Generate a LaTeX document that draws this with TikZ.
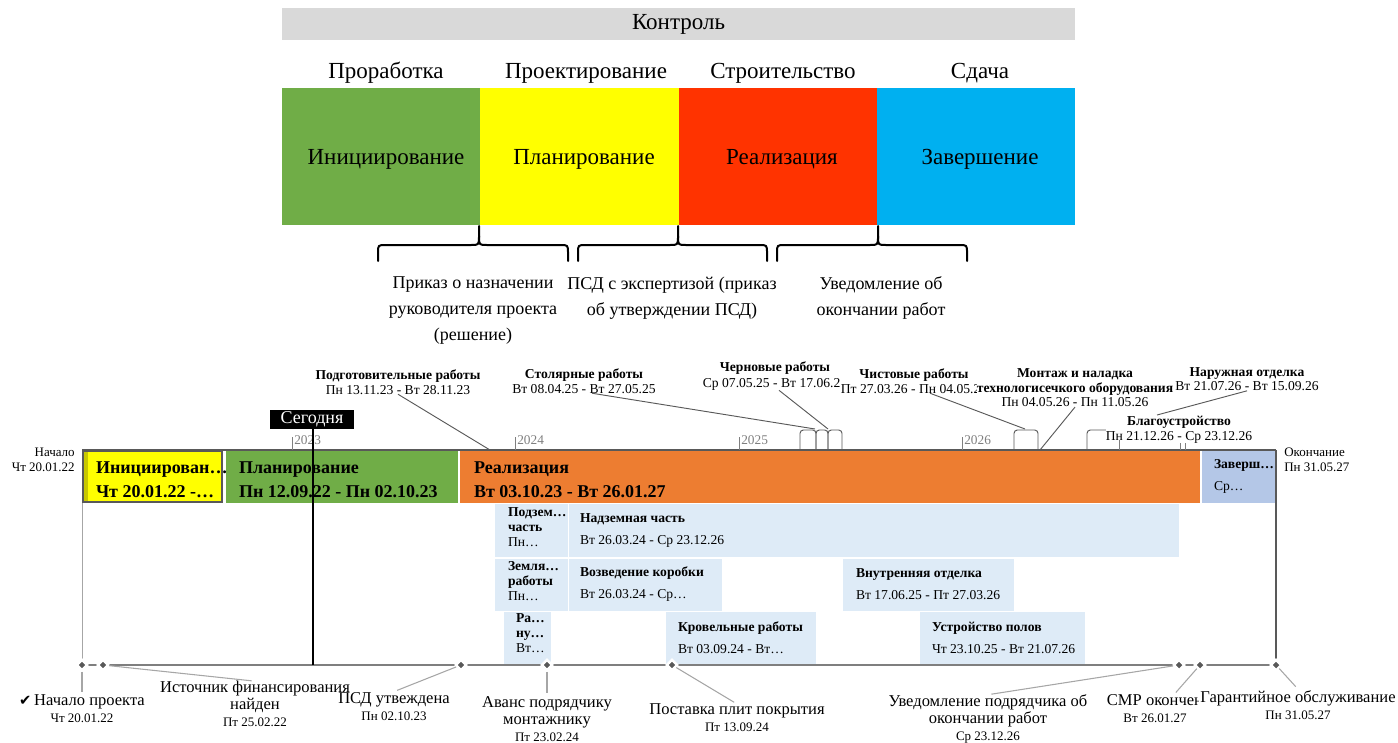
\documentclass[tikz,border=0pt]{standalone}
\usepackage{fontspec}
\setmainfont{Liberation Serif}
\newfontfamily\symfont{DejaVu Sans}
\usetikzlibrary{shapes.geometric}
\definecolor{ctlgray}{HTML}{D9D9D9}
\definecolor{topgreen}{HTML}{70AD47}
\definecolor{topyellow}{HTML}{FFFF00}
\definecolor{topred}{HTML}{FF3300}
\definecolor{topblue}{HTML}{00B0F0}
\definecolor{barYel}{HTML}{FFFF00}
\definecolor{barYelDark}{HTML}{C8C800}
\definecolor{barGrn}{HTML}{70AD47}
\definecolor{barOrg}{HTML}{ED7D31}
\definecolor{barZav}{HTML}{B4C7E7}
\definecolor{subBlue}{HTML}{DEEBF7}
\definecolor{axisgray}{HTML}{595959}
\definecolor{tickgray}{HTML}{7F7F7F}
\definecolor{ldrgray}{HTML}{595959}
\definecolor{mldrgray}{HTML}{A6A6A6}
\definecolor{diagray}{HTML}{595959}
\definecolor{yeargray}{HTML}{7F7F7F}
\newcommand\fTop{\fontsize{17.25pt}{20pt}\selectfont}
\newcommand\fBr{\fontsize{13.5pt}{19.5pt}\selectfont}
\newcommand\fCo{\fontsize{10.2pt}{10.9pt}\selectfont}
\newcommand\fBar{\fontsize{13.5pt}{18pt}\selectfont\bfseries}
\newcommand\fSub{\fontsize{10.2pt}{16.5pt}\selectfont}
\newcommand\fSubT{\fontsize{10.2pt}{11.3pt}\selectfont}
\newcommand\fMs{\fontsize{12.4pt}{12.75pt}\selectfont}
\newcommand\fMd{\fontsize{9.75pt}{11pt}\selectfont}
\newcommand\fTd{\fontsize{13.5pt}{15pt}\selectfont}
\newcommand\fYr{\fontsize{10pt}{12pt}\selectfont}
\newcommand\fEnd{\fontsize{9.75pt}{11.25pt}\selectfont}
\tikzset{
 lbl/.style={inner sep=0pt, outer sep=0pt, align=center},
 topbox/.style={inner sep=0pt, outer sep=0pt, draw=none},
 bracestyle/.style={line width=1.5pt, line cap=round, line join=round},
 axisline/.style={draw=axisgray, line width=1.1pt},
 tickline/.style={draw=tickgray, line width=0.75pt},
 ldr/.style={draw=ldrgray, line width=0.7pt},
 mldr/.style={draw=mldrgray, line width=0.8pt, shorten >=2.5pt},
 arch/.style={draw=ldrgray, line width=0.7pt, rounded corners=2.5pt},
 dia/.style={diamond, fill=diagray, draw=white, line width=1.8pt, minimum size=8.5pt, inner sep=0pt},
 bartxt/.style={anchor=west, inner sep=0pt, outer sep=0pt, align=left},
 colbl/.style={inner sep=0pt, outer sep=0pt, align=center, font=\fCo},
 mslbl/.style={inner sep=0pt, outer sep=0pt, align=center, font=\fMs},
 yearlbl/.style={anchor=west, inner sep=0pt, font=\fYr, text=yeargray},
}
\begin{document}
\begin{tikzpicture}[x=0.75pt,y=-0.75pt]
\useasboundingbox (0,0) rectangle (1398,742);

% ---------- top scheme ----------
\node[topbox, fill=ctlgray, minimum width=793*0.75pt, minimum height=32*0.75pt, font=\fTop] (ctl) at (678.5,24) {Контроль};

\node[lbl, font=\fTop] (ph1) at (386,73) {Проработка};
\node[lbl, font=\fTop] (ph2) at (586,73) {Проектирование};
\node[lbl, font=\fTop] (ph3) at (783,73) {Строительство};
\node[lbl, font=\fTop] (ph4) at (980,73) {Сдача};

\node[topbox, fill=topgreen, minimum width=198.5*0.75pt, minimum height=137*0.75pt] (bIni) at (381,156.5) {};
\node[topbox, fill=topyellow, minimum width=199.5*0.75pt, minimum height=137*0.75pt] (bPla) at (579.5,156.5) {};
\node[topbox, fill=topred, minimum width=198.5*0.75pt, minimum height=137*0.75pt] (bRea) at (778,156.5) {};
\node[topbox, fill=topblue, minimum width=198.5*0.75pt, minimum height=137*0.75pt] (bZav) at (976,156.5) {};

\node[lbl, font=\fTop] (tIni) at (386,159) {Инициирование};
\node[lbl, font=\fTop] (tPla) at (584,159) {Планирование};
\node[lbl, font=\fTop] (tRea) at (782,159) {Реализация};
\node[lbl, font=\fTop] (tZav) at (980,159) {Завершение};

% braces
\draw[bracestyle] (378,261) -- (378,253) .. controls (378,245) .. (386,245) -- (471,245) .. controls (479,245) .. (479,236) -- (479,226);
\draw[bracestyle] (479,236) .. controls (479,245) .. (487,245) -- (560,245) .. controls (568,245) .. (568,253) -- (568,261);
\draw[bracestyle] (578,261) -- (578,253) .. controls (578,245) .. (586,245) -- (670,245) .. controls (678,245) .. (678,236) -- (678,226);
\draw[bracestyle] (678,236) .. controls (678,245) .. (686,245) -- (759,245) .. controls (767,245) .. (767,253) -- (767,261);
\draw[bracestyle] (777,261) -- (777,253) .. controls (777,245) .. (785,245) -- (870,245) .. controls (878,245) .. (878,236) -- (878,226);
\draw[bracestyle] (878,236) .. controls (878,245) .. (886,245) -- (959,245) .. controls (967,245) .. (967,253) -- (967,261);

\node[lbl, font=\fBr] (br1) at (473,311) {Приказ о назначении\\руководителя проекта\\(решение)};
\node[lbl, font=\fBr] (br2) at (672,298) {ПСД с экспертизой (приказ\\об утверждении ПСД)};
\node[lbl, font=\fBr] (br3) at (881,298) {Уведомление об\\окончании работ};

% ---------- Gantt ----------
% main bars
\fill[barYel] (82,450) rectangle (223,503);
\fill[barYelDark] (84,452) rectangle (88,501);
\draw[draw=axisgray, line width=1.4pt] (83,451) rectangle (222,502);
\fill[barGrn] (226,451) rectangle (458,503);
\fill[barOrg] (460,451) rectangle (1200,503);
\fill[barZav] (1202,451) rectangle (1276,503);

\node[bartxt, font=\fBar] (gIni) at (96,480) {Инициирован…\\Чт 20.01.22 -…};
\node[bartxt, font=\fBar] (gPla) at (239,480) {Планирование\\Пн 12.09.22 - Пн 02.10.23};
\node[bartxt, font=\fBar] (gRea) at (474,480) {Реализация\\Вт 03.10.23 - Вт 26.01.27};
\node[bartxt, font=\fSub] (gZav) at (1214,476) {\textbf{Заверш…}\\Ср…};

% sub bars
\fill[subBlue] (495,504) rectangle (568,557);
\fill[subBlue] (569,504) rectangle (1179,557);
\fill[subBlue] (495,559) rectangle (568,611);
\fill[subBlue] (569,559) rectangle (722,611);
\fill[subBlue] (843,559) rectangle (1014,611);
\fill[subBlue] (504,612) rectangle (551,664);
\fill[subBlue] (666,612) rectangle (816,664);
\fill[subBlue] (920,612) rectangle (1085,664);

\node[bartxt, font=\fSubT] (sPod) at (508,527) {\textbf{Подзем…}\\\textbf{часть}\\Пн…};
\node[bartxt, font=\fSub] (sNad) at (580,530) {\textbf{Надземная часть}\\Вт 26.03.24 - Ср 23.12.26};
\node[bartxt, font=\fSubT] (sZem) at (508,581) {\textbf{Земля…}\\\textbf{работы}\\Пн…};
\node[bartxt, font=\fSub] (sVoz) at (580,584) {\textbf{Возведение коробки}\\Вт 26.03.24 - Ср…};
\node[bartxt, font=\fSub] (sVnu) at (856,584) {\textbf{Внутренняя отделка}\\Вт 17.06.25 - Пт 27.03.26};
\node[bartxt, font=\fSubT] (sRab) at (516,633) {\textbf{Ра…}\\\textbf{ну…}\\Вт…};
\node[bartxt, font=\fSub] (sKro) at (678,638) {\textbf{Кровельные работы}\\Вт 03.09.24 - Вт…};
\node[bartxt, font=\fSub] (sUst) at (932,638) {\textbf{Устройство полов}\\Чт 23.10.25 - Вт 21.07.26};

% borders and axis
\draw[draw=mldrgray, line width=0.6pt] (82,503) -- (82,665);
\draw[draw=axisgray, line width=1.1pt] (1276,450) -- (1276,665);
\draw[axisline] (82,450) -- (1276,450);

% year ticks
\draw[tickline] (292,437) -- (292,450);
\draw[tickline] (515,437) -- (515,450);
\draw[tickline] (739,437) -- (739,450);
\draw[tickline] (962,437) -- (962,450);
\draw[tickline] (1119,440) -- (1119,450);
\draw[tickline] (1180,443) -- (1180,450);
\draw[tickline] (1185,443) -- (1185,450);
\node[yearlbl] (y23) at (294,440) {2023};
\node[yearlbl] (y24) at (517,440) {2024};
\node[yearlbl] (y25) at (741,440) {2025};
\node[yearlbl] (y26) at (964,440) {2026};

% start / end
\node[inner sep=0pt, align=right, anchor=east, font=\fEnd] (nStart) at (75,460) {Начало\\Чт 20.01.22};
\node[inner sep=0pt, align=left, anchor=west, font=\fEnd] (nEnd) at (1284,460) {Окончание\\Пн 31.05.27};

% callouts
\node[colbl] (cPod) at (398,382) {\textbf{Подготовительные работы}\\Пн 13.11.23 - Вт 28.11.23};
\node[colbl] (cSto) at (584,381) {\textbf{Столярные работы}\\Вт 08.04.25 - Вт 27.05.25};
\node[colbl, font=\fontsize{10.2pt}{12pt}\selectfont] (cChe) at (775,376) {\textbf{Черновые работы}\\Ср 07.05.25 - Вт 17.06.25};
\node[colbl, fill=white] (cChi) at (914,381) {\textbf{Чистовые работы}\\Пт 27.03.26 - Пн 04.05.26};
\node[colbl, fill=white] (cMon) at (1075,388) {\textbf{Монтаж и наладка}\\\textbf{технологисечкого оборудования}\\Пн 04.05.26 - Пн 11.05.26};
\node[colbl] (cNar) at (1247,379) {\textbf{Наружная отделка}\\Вт 21.07.26 - Вт 15.09.26};
\node[colbl] (cBla) at (1179,430) {\textbf{Благоустройство}\\Пн 21.12.26 - Ср 23.12.26};

\coordinate (pPod) at (490,450);
\coordinate (pSto) at (815,429);
\coordinate (pChe) at (828,429);
\coordinate (pChi) at (1025,429);
\coordinate (pMon) at (1040,450);
\coordinate (pNar) at (1157,415);
\coordinate (pBla) at (1087,450);

\draw[arch] (800,450) -- (800,430) -- (816,430) -- (816,450);
\draw[arch] (816,450) -- (816,430) -- (828,430) -- (828,450);
\draw[arch] (828,450) -- (828,430) -- (842,430) -- (842,450);
\draw[arch] (1014,450) -- (1014,430) -- (1038,430) -- (1038,450);

\draw[ldr] (cPod.south) -- (pPod);
\draw[ldr] ([xshift=6pt]cSto.south) -- (pSto);
\draw[ldr] ([xshift=3pt]cChe.south) -- (pChe);
\draw[ldr] ([xshift=12pt]cChi.south) -- (pChi);
\draw[ldr] (cMon.south) -- (pMon);
\draw[ldr] (cNar.south) -- (pNar);
\draw[arch] (pBla) |- (cBla.west);

% milestone line
\draw[draw=tickgray, line width=1pt] (82,665) -- (1276,665);

% today
\node[fill=black, text=white, inner sep=0pt, minimum width=84*0.75pt, minimum height=19*0.75pt, font=\fTd] (tdy) at (312,419) {Сегодня};
\coordinate (tdyEnd) at (313,665);
\draw[line width=1.1pt] (tdy.south -| tdyEnd) -- (tdyEnd);

% milestones
\node[dia] (m1) at (82,665) {};
\node[dia] (m2) at (103,665) {};
\node[dia] (m3) at (461,665) {};
\node[dia] (m4) at (547,665) {};
\node[dia] (m5) at (672,665) {};
\node[dia] (m6) at (1179,665) {};
\node[dia] (m7) at (1200,665) {};
\node[dia] (m8) at (1276,665) {};

\node[mslbl] (ms1) at (82,709) {{\symfont\fontsize{11pt}{12pt}\selectfont ✔}\,Начало проекта\\{\fMd Чт 20.01.22}};
\node[mslbl] (ms2) at (255,704) {Источник финансирования\\найден\\{\fMd Пт 25.02.22}};
\node[mslbl, fill=white, inner sep=1pt] (ms3) at (394,707) {ПСД утвеждена\\{\fMd Пн 02.10.23}};
\node[mslbl] (ms4) at (547,719) {Аванс подрядчику\\монтажнику\\{\fMd Пт 23.02.24}};
\node[mslbl] (ms5) at (737,718) {Поставка плит покрытия\\{\fMd Пт 13.09.24}};
\node[mslbl] (ms6) at (988,719) {Уведомление подрядчика об\\окончании работ\\{\fMd Ср 23.12.26}};
\node[mslbl] (ms7) at (1155,709) {СМР окончен\\{\fMd Вт 26.01.27}};
\node[mslbl, fill=white, inner sep=1pt] (ms8) at (1298,705) {Гарантийное обслуживание\\{\fMd Пн 31.05.27}};

\draw[mldr] (m1) -- (ms1.north);
\draw[mldr] (m2) -- (ms2.north);
\draw[mldr] (m3) -- (ms3.north);
\draw[mldr] (m4) -- (ms4.north);
\draw[mldr] (m5) -- (ms5.north);
\draw[mldr] (m6) -- (ms6.north);
\draw[mldr] (m7) -- ([xshift=14pt]ms7.north);
\draw[mldr] (m8) -- (ms8.north);
\end{tikzpicture}
\end{document}
